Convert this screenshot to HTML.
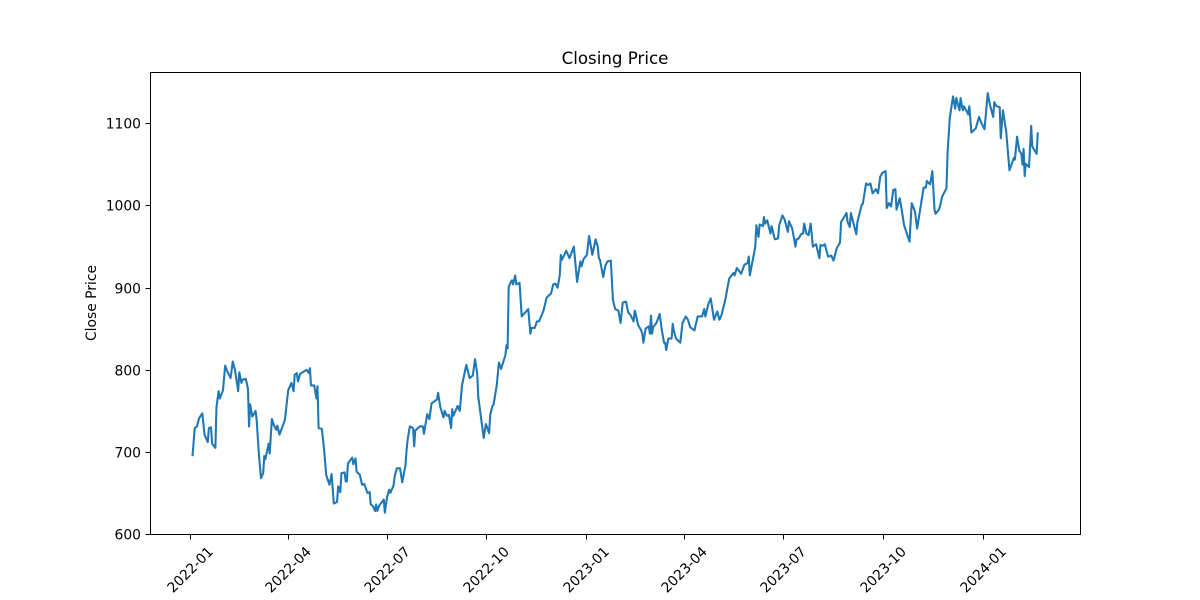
<!DOCTYPE html>
<html lang="en">
<head>
<meta charset="utf-8">
<title>Closing Price</title>
<style>
html,body{margin:0;padding:0;background:#fff;width:1200px;height:600px;overflow:hidden}
svg{display:block}
text{font-family:"DejaVu Sans",sans-serif;fill:#000}
</style>
</head>
<body>
<svg id="chart" width="1200" height="600" viewBox="0 0 1200 600" xmlns="http://www.w3.org/2000/svg">
  <rect x="0" y="0" width="1200" height="600" fill="#ffffff"/>
  <text x="615" y="64" font-size="16.67" text-anchor="middle">Closing Price</text>
  <text transform="translate(96 303) rotate(-90)" font-size="13.89" text-anchor="middle">Close Price</text>
  <g id="ticks"></g>
  <path id="line" fill="none" stroke="#1f77b4" stroke-width="2.08" stroke-linejoin="round" stroke-linecap="square"></path>
  <rect x="150.5" y="72.5" width="930" height="462" fill="none" stroke="#000" stroke-width="1"/>
</svg>
<script>
// Days since 2022-01-01 for each plotted close
const tradingDays = [
2,4,6,8,11,13,16,17,19,20,
23,24,26,27,30,32,34,37,39,41,
44,45,47,48,51,53,54,55,57,60,
61,63,65,67,68,69,72,73,75,77,
79,80,82,87,90,93,95,96,98,99,
101,107,109,110,111,114,116,117,118,121,
123,125,128,130,132,135,136,138,139,142,
143,144,145,149,150,152,153,156,158,160,
163,165,166,168,170,171,172,174,178,179,
181,183,184,187,188,190,193,195,198,199,
200,202,205,206,207,211,214,215,218,220,
222,227,228,230,233,234,236,238,240,241,
242,246,248,250,254,257,260,262,264,265,
270,272,275,276,278,279,282,284,286,290,
291,292,293,295,296,297,299,300,303,305,
311,313,314,317,319,321,325,328,332,334,
336,338,340,341,342,346,349,353,356,359,
360,362,365,367,370,373,375,376,377,380,
382,384,387,389,391,394,396,398,401,403,
405,408,409,410,412,415,416,417,419,422,
423,424,425,426,429,432,434,436,437,438,
440,443,444,445,447,451,453,456,458,460,
464,467,471,473,474,477,479,482,485,487,
489,493,494,496,500,501,503,507,510,513,
514,515,518,520,521,523,524,527,528,529,
531,534,535,538,541,542,545,547,550,551,
554,557,558,560,562,564,565,567,569,571,
573,576,579,580,582,584,587,590,592,595,
598,599,604,605,607,608,613,614,618,619,
622,624,626,628,631,633,635,637,640,641,
643,645,647,649,650,653,655,657,662,664,
667,669,672,675,677,678,680,681,683,685,
686,689,690,692,696,697,699,702,704,705,
708,709,711,712,715,716,717,719,723,726,
728,731,734,736,739,740,742,745,746,748,
751,754,758,759,761,763,765,766,767,768,
769,772,774,775,779,780
];
const closePrices = [
696,729,731,741,747,721,712,729,730,710,
705,755,774,765,775,805,798,790,810,800,
774,797,784,788,789,777,731,758,743,750,
739,698,668,674,695,691,710,698,740,732,
727,732,721,739,775,784,774,794,796,786,
795,800,796,802,781,781,765,780,729,728,
704,672,660,673,637,639,658,651,674,675,
664,664,686,693,685,692,676,672,660,661,
650,651,636,634,628,636,628,635,642,626,
645,654,650,659,670,680,680,663,684,702,
715,731,729,707,726,731,731,722,746,740,
759,764,772,755,742,750,744,745,729,752,
744,756,750,781,806,790,793,813,796,767,
717,734,723,745,756,757,781,809,801,818,
830,826,901,907,909,904,915,904,906,865,
874,844,851,851,859,859,872,888,893,904,
905,900,915,940,934,945,936,950,907,932,
926,935,940,963,940,959,950,936,934,913,
927,932,933,885,874,872,857,882,883,870,
867,859,872,868,855,848,844,833,850,853,
844,866,844,852,857,868,848,833,833,824,
838,838,856,848,838,833,857,865,861,852,
848,865,865,874,865,881,887,861,871,861,
867,889,897,911,918,915,924,917,928,930,
938,915,936,950,976,962,977,975,986,978,
982,966,975,959,960,976,988,983,968,981,
972,950,959,960,965,966,978,966,964,978,
950,953,936,952,951,953,938,939,933,948,
955,980,991,980,974,991,965,980,1001,1002,
1027,1025,1027,1015,1020,1015,1035,1040,1042,997,
1003,999,1019,1020,995,1009,993,976,956,1003,
993,972,997,1022,1022,1030,1027,1026,1042,995,
990,995,999,1011,1021,1064,1106,1133,1118,1131,
1116,1131,1116,1121,1114,1111,1121,1089,1094,1108,
1101,1093,1137,1123,1108,1126,1121,1120,1082,1116,
1090,1043,1058,1056,1084,1067,1063,1050,1069,1036,
1051,1047,1097,1072,1063,1088
];
const xTickLabels = ['2022-01','2022-04','2022-07','2022-10','2023-01','2023-04','2023-07','2023-10','2024-01'];
const yTickValues = [600,700,800,900,1000,1100];

const SVG_NS = 'http://www.w3.org/2000/svg';
const PX_PER_DAY = 1.0863;
const PX_PER_UNIT = 0.821;
function xScale(day) { return 190.4 + day * PX_PER_DAY; }
function yScale(value) { return 534 - (value - 600) * PX_PER_UNIT; }
function dayOf(label) {
  const parts = label.split('-');
  return (Date.UTC(+parts[0], +parts[1] - 1, 1) - Date.UTC(2022, 0, 1)) / 86400000;
}

let d = '';
for (let i = 0; i < tradingDays.length; i++) {
  d += (i ? 'L' : 'M') + xScale(tradingDays[i]).toFixed(2) + ' ' + yScale(closePrices[i]).toFixed(2);
}
document.getElementById('line').setAttribute('d', d);

const ticks = document.getElementById('ticks');

xTickLabels.forEach(function (label) {
  const x = Math.floor(xScale(dayOf(label))) + 0.5;
  const tick = document.createElementNS(SVG_NS, 'line');
  
  
  tick.setAttribute('x1', x);
  tick.setAttribute('x2', x);
  tick.setAttribute('y1', 534.5);
  tick.setAttribute('y2', 539.5);
  tick.setAttribute('stroke', '#000');
  tick.setAttribute('stroke-width', 1);
  ticks.appendChild(tick);
  const text = document.createElementNS(SVG_NS, 'text');
  
  
  text.setAttribute('font-size', '13.89');
  text.setAttribute('text-anchor', 'middle');
  text.setAttribute('transform', 'translate(' + (x - 0.5) + ' 569.5) rotate(-45) translate(0 5)');
  text.textContent = label;
  ticks.appendChild(text);
});

yTickValues.forEach(function (value) {
  const y = Math.floor(yScale(value) + 0.35) + 0.5;
  const tick = document.createElementNS(SVG_NS, 'line');
  
  
  tick.setAttribute('x1', 145.5);
  tick.setAttribute('x2', 150.5);
  tick.setAttribute('y1', y);
  tick.setAttribute('y2', y);
  tick.setAttribute('stroke', '#000');
  tick.setAttribute('stroke-width', 1);
  ticks.appendChild(tick);
  const text = document.createElementNS(SVG_NS, 'text');
  
  
  text.setAttribute('font-size', '13.89');
  text.setAttribute('text-anchor', 'end');
  text.setAttribute('x', 141);
  text.setAttribute('y', y + 5);
  text.textContent = value;
  ticks.appendChild(text);
});
</script>
</body>
</html>
